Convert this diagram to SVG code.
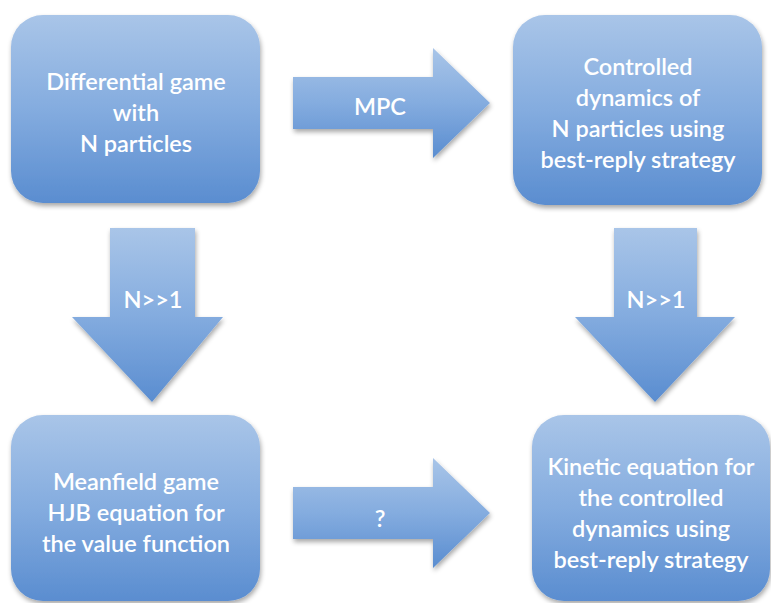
<svg xmlns="http://www.w3.org/2000/svg" width="771" height="603" viewBox="0 0 771 603">
<defs>
<linearGradient id="g" x1="0" y1="0" x2="0" y2="1">
<stop offset="0" stop-color="#a9c5e8"/>
<stop offset="0.5" stop-color="#84acdf"/>
<stop offset="1" stop-color="#5a8dd0"/>
</linearGradient>
<filter id="sh" x="-10%" y="-10%" width="125%" height="125%">
<feGaussianBlur in="SourceAlpha" stdDeviation="2.5"/>
<feOffset dx="1" dy="3" result="b"/>
<feComponentTransfer><feFuncA type="linear" slope="0.35"/></feComponentTransfer>
<feMerge><feMergeNode/><feMergeNode in="SourceGraphic"/></feMerge>
</filter>
</defs>
<style>
.box{fill:url(#g);filter:url(#sh)}
.arr{fill:url(#g);filter:url(#sh)}
text{font-family:Lato,"Open Sans","Liberation Sans",sans-serif;font-size:23.5px;font-weight:600;fill:#ffffff;text-anchor:middle}
</style>
<rect width="771" height="603" fill="#ffffff"/>
<g id="connectors">
<g id="arrow-mpc"><path class="arr" d="M293 77 H433 V48 L490 103 L433 158 V129 H293 Z"/><text x="380" y="115">MPC</text></g>
<g id="arrow-q"><path class="arr" d="M293 487 H433 V458 L490 513 L433 568 V539 H293 Z"/><text x="380" y="527">?</text></g>
<g id="arrow-n1"><path class="arr" d="M110 228 H195 V317 H223 L152 402 L72 317 H110 Z"/><text x="153" y="308">N&gt;&gt;1</text></g>
<g id="arrow-n2"><path class="arr" d="M614 228 H697 V317 H735 L655 402 L575 317 H614 Z"/><text x="656" y="308">N&gt;&gt;1</text></g>
</g>
<g id="node-diff">
<rect class="box" x="11" y="15" width="249" height="188" rx="32"/>
<text x="136" y="90">Differential game</text>
<text x="136" y="121">with</text>
<text x="136" y="152">N particles</text>
</g>
<g id="node-ctrl">
<rect class="box" x="513" y="15" width="249" height="190" rx="32"/>
<text x="638" y="75">Controlled</text>
<text x="638" y="106">dynamics of</text>
<text x="638" y="137">N particles using</text>
<text x="638" y="168">best-reply strategy</text>
</g>
<g id="node-mfg">
<rect class="box" x="11" y="415" width="249" height="186" rx="32"/>
<text x="136" y="490">Meanfield game</text>
<text x="136" y="521">HJB equation for</text>
<text x="136" y="552">the value function</text>
</g>
<g id="node-kin">
<rect class="box" x="532" y="415" width="238" height="186" rx="32"/>
<text x="651" y="475">Kinetic equation for</text>
<text x="651" y="506">the controlled</text>
<text x="651" y="537">dynamics using</text>
<text x="651" y="568">best-reply strategy</text>
</g>
</svg>
